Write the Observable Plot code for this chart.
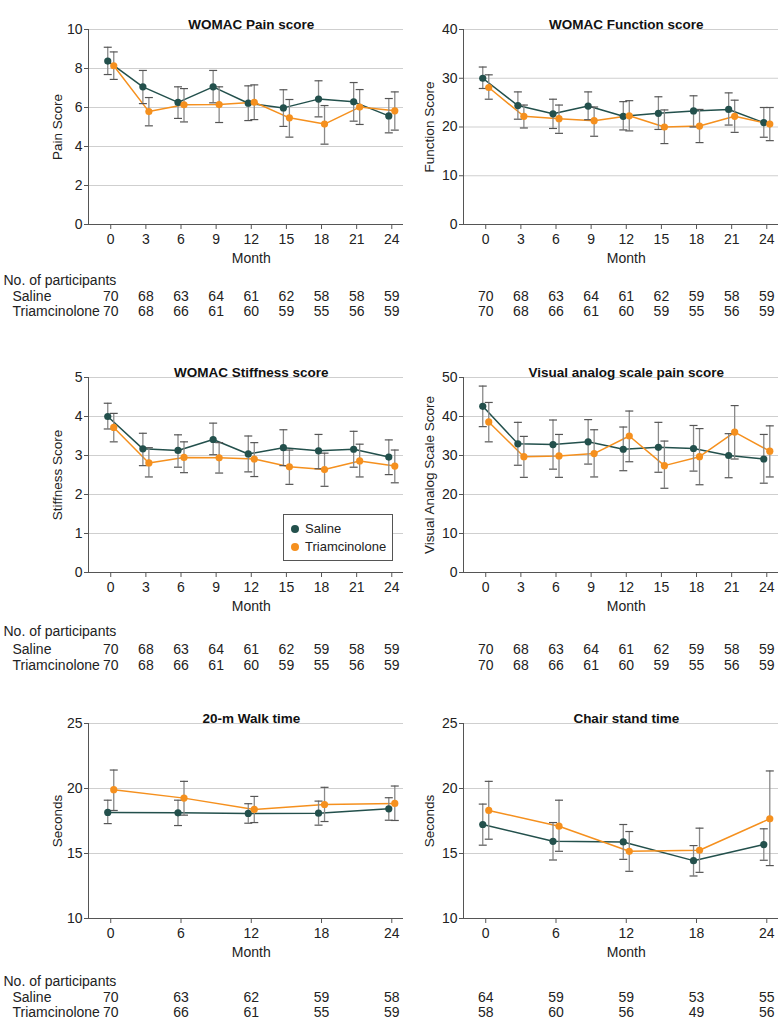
<!DOCTYPE html>
<html><head><meta charset="utf-8">
<script src="https://cdn.jsdelivr.net/npm/d3@7"></script>
<script src="https://cdn.jsdelivr.net/npm/@observablehq/plot@0.6"></script>
<style>
body{margin:0;background:#fff;}
#root{position:relative;width:780px;height:1034px;overflow:hidden;}
.row{display:flex;}
.row svg{display:block;}
.legend{position:absolute;border:1px solid #555;background:#fff;box-sizing:border-box;}
.legend .item{position:absolute;white-space:nowrap;color:#222;}
.legend .sw{position:absolute;border-radius:50%;}
</style></head><body><div id="root"></div>
<script>
const FONT = '"Liberation Sans", Arial, sans-serif';

const groups = ["Saline", "Triamcinolone"];
const groupColors = ["#23504c", "#f5901e"];
const months9 = [0, 3, 6, 9, 12, 15, 18, 21, 24];
const months5 = [0, 6, 12, 18, 24];

// WOMAC Pain score
const painTicks = [0, 2, 4, 6, 8, 10];
const painSaline   = [8.38, 7.06, 6.26, 7.06, 6.22, 5.98, 6.43, 6.29, 5.57];
const painSalineLo = [7.69, 6.20, 5.44, 6.24, 5.33, 5.03, 5.52, 5.30, 4.70];
const painSalineHi = [9.09, 7.90, 7.06, 7.90, 7.11, 6.91, 7.37, 7.28, 6.46];
const painTriam    = [8.14, 5.79, 6.14, 6.15, 6.27, 5.47, 5.15, 6.02, 5.83];
const painTriamLo  = [7.44, 5.06, 5.26, 5.23, 5.38, 4.48, 4.12, 5.13, 4.84];
const painTriamHi  = [8.85, 6.51, 6.97, 7.06, 7.16, 6.41, 6.10, 6.92, 6.80];
const painNSaline  = [70, 68, 63, 64, 61, 62, 58, 58, 59];
const painNTriam   = [70, 68, 66, 61, 60, 59, 55, 56, 59];

// WOMAC Function score
const funcTicks = [0, 10, 20, 30, 40];
const funcSaline   = [30.0, 24.4, 22.7, 24.3, 22.2, 22.8, 23.3, 23.6, 20.9];
const funcSalineLo = [27.9, 21.6, 19.7, 21.5, 19.4, 19.5, 20.0, 20.4, 17.9];
const funcSalineHi = [32.3, 27.2, 25.7, 27.2, 25.2, 26.2, 26.4, 27.0, 24.0];
const funcTriam    = [28.1, 22.2, 21.7, 21.3, 22.3, 20.0, 20.2, 22.2, 20.6];
const funcTriamLo  = [25.7, 19.8, 18.7, 18.1, 19.2, 16.6, 16.8, 18.9, 17.2];
const funcTriamHi  = [30.7, 24.5, 24.5, 24.1, 25.4, 23.5, 23.6, 25.5, 24.0];
const funcNSaline  = [70, 68, 63, 64, 61, 62, 59, 58, 59];
const funcNTriam   = [70, 68, 66, 61, 60, 59, 55, 56, 59];

// WOMAC Stiffness score
const stiffTicks = [0, 1, 2, 3, 4, 5];
const stiffSaline   = [4.00, 3.17, 3.13, 3.41, 3.04, 3.20, 3.12, 3.16, 2.96];
const stiffSalineLo = [3.68, 2.74, 2.70, 3.02, 2.58, 2.74, 2.66, 2.70, 2.51];
const stiffSalineHi = [4.34, 3.57, 3.53, 3.83, 3.50, 3.66, 3.54, 3.62, 3.40];
const stiffTriam    = [3.72, 2.81, 2.95, 2.94, 2.91, 2.71, 2.64, 2.86, 2.73];
const stiffTriamLo  = [3.35, 2.45, 2.56, 2.55, 2.46, 2.26, 2.21, 2.45, 2.30];
const stiffTriamHi  = [4.08, 3.20, 3.35, 3.33, 3.33, 3.14, 3.06, 3.29, 3.14];
const stiffNSaline  = [70, 68, 63, 64, 61, 62, 59, 58, 59];
const stiffNTriam   = [70, 68, 66, 61, 60, 59, 55, 56, 59];

// Visual analog scale pain score
const vasTicks = [0, 10, 20, 30, 40, 50];
const vasSaline   = [42.6, 33.0, 32.8, 33.5, 31.6, 32.1, 31.8, 30.0, 29.1];
const vasSalineLo = [37.4, 27.5, 26.5, 27.8, 26.1, 25.7, 26.0, 24.3, 22.9];
const vasSalineHi = [47.8, 38.5, 39.1, 39.2, 37.3, 38.5, 37.7, 35.6, 35.4];
const vasTriam    = [38.6, 29.7, 29.9, 30.5, 35.0, 27.4, 29.7, 36.0, 31.1];
const vasTriamLo  = [33.5, 24.4, 24.4, 24.5, 28.4, 21.6, 22.5, 29.1, 24.5];
const vasTriamHi  = [43.6, 34.9, 35.4, 36.6, 41.4, 33.7, 36.9, 42.8, 37.6];
const vasNSaline  = [70, 68, 63, 64, 61, 62, 59, 58, 59];
const vasNTriam   = [70, 68, 66, 61, 60, 59, 55, 56, 59];

// 20-m Walk time
const secTicks = [10, 15, 20, 25];
const walkSaline   = [18.16, 18.13, 18.08, 18.10, 18.44];
const walkSalineLo = [17.30, 17.15, 17.33, 17.18, 17.56];
const walkSalineHi = [19.10, 19.10, 18.83, 19.03, 19.29];
const walkTriam    = [19.91, 19.26, 18.39, 18.77, 18.85];
const walkTriamLo  = [18.31, 17.95, 17.38, 17.46, 17.54];
const walkTriamHi  = [21.42, 20.55, 19.39, 20.09, 20.19];
const walkNSaline  = [70, 63, 62, 59, 58];
const walkNTriam   = [70, 66, 61, 55, 59];

// Chair stand time
const chairSaline   = [17.23, 15.94, 15.89, 14.45, 15.69];
const chairSalineLo = [15.64, 14.50, 14.55, 13.27, 14.48];
const chairSalineHi = [18.80, 17.38, 17.23, 15.61, 16.90];
const chairTriam    = [18.31, 17.10, 15.17, 15.25, 17.67];
const chairTriamLo  = [16.10, 15.17, 13.63, 13.55, 14.07];
const chairTriamHi  = [20.55, 19.10, 16.69, 16.95, 21.35];
const chairNSaline  = [64, 59, 59, 53, 55];
const chairNTriam   = [58, 60, 56, 49, 56];

// ---------- drawing ----------
const xDomain = [-1.9, 25];
const capSymbol = { draw(ctx) { ctx.moveTo(-4, 0); ctx.lineTo(4, 0); } };

function rowsOf(months, mean, lo, hi) {
  return months.map((m, i) => ({month: m, mean: mean[i], lo: lo[i], hi: hi[i]}));
}

function panel(cfg) {
  const {title, ylabel, yTicks, months, series, counts, left, width, marginLeft, marginRight,
         height, marginBottom, tableDy, ylabelDx} = cfg;
  const yDomain = d3.extent(yTicks);
  const xMid = (d3.min(months) + d3.max(months)) / 2;
  const marks = [
    Plot.gridY(yTicks, {stroke: "#cfcfcf", strokeOpacity: 1}),
    Plot.ruleY([yDomain[0]], {stroke: "#555"}),
    Plot.ruleX([xDomain[0]], {stroke: "#555"}),
    Plot.axisY(yTicks, {tickSize: 4, tickPadding: 2, label: null, stroke: "#555", fill: "#222", fontSize: 14}),
    Plot.axisX(months, {tickSize: 5, tickPadding: 5, label: null, stroke: "#555", fill: "#222", fontSize: 14}),
    Plot.text([title], {x: xMid, frameAnchor: "top", dy: -10, fontWeight: "bold", fontSize: 13.5, fill: "#111"}),
    Plot.text([ylabel], {frameAnchor: "left", textAnchor: "middle", dx: -ylabelDx, rotate: -90, fontSize: 13.5, fill: "#222"}),
    Plot.text(["Month"], {x: xMid, frameAnchor: "bottom", dy: 38, fontSize: 14, fill: "#222"})
  ];
  const data = series.map(s => rowsOf(months, s[0], s[1], s[2]));
  const dxs = [-3, 3];
  data.forEach((rows, k) => {
    marks.push(Plot.line(rows, {x: "month", y: "mean", stroke: groupColors[k], strokeWidth: 1.5, dx: dxs[k]}));
  });
  data.forEach((rows, k) => {
    marks.push(Plot.ruleX(rows, {x: "month", y1: "lo", y2: "hi", stroke: "#8a8a8a", strokeWidth: 1.3, dx: dxs[k]}));
    marks.push(Plot.dot(rows, {x: "month", y: "lo", symbol: capSymbol, r: 4, fill: "none", stroke: "#555", strokeWidth: 1.2, dx: dxs[k]}));
    marks.push(Plot.dot(rows, {x: "month", y: "hi", symbol: capSymbol, r: 4, fill: "none", stroke: "#555", strokeWidth: 1.2, dx: dxs[k]}));
  });
  data.forEach((rows, k) => {
    marks.push(Plot.dot(rows, {x: "month", y: "mean", r: 3.6, fill: groupColors[k], stroke: "none", dx: dxs[k]}));
  });
  counts.forEach((n, k) => {
    marks.push(Plot.text(months, {x: d => d, text: (d, i) => String(n[i]), frameAnchor: "bottom", dy: tableDy[k + 1], fontSize: 14, fill: "#222"}));
  });
  if (left) {
    marks.push(Plot.text(["No. of participants"], {frameAnchor: "bottom-left", dx: -(marginLeft - 3), dy: tableDy[0], textAnchor: "start", fontSize: 14, fill: "#222"}));
    groups.forEach((g, k) => {
      marks.push(Plot.text([g], {frameAnchor: "bottom-left", dx: -(marginLeft - 12), dy: tableDy[k + 1], textAnchor: "start", fontSize: 14, fill: "#222"}));
    });
  }
  return Plot.plot({
    width, height, marginLeft, marginRight, marginTop: 29, marginBottom,
    x: {domain: xDomain}, y: {domain: yDomain},
    style: {fontFamily: FONT, fontSize: "14px", color: "#222", background: "transparent", overflow: "visible"},
    marks
  });
}

const root = document.getElementById("root");
const rowSpecs = [
  {height: 348, tableDy: [60, 76, 91], panels: [
    {title: "WOMAC Pain score", ylabel: "Pain Score", yTicks: painTicks, months: months9,
     series: [[painSaline, painSalineLo, painSalineHi], [painTriam, painTriamLo, painTriamHi]],
     counts: [painNSaline, painNTriam]},
    {title: "WOMAC Function score", ylabel: "Function Score", yTicks: funcTicks, months: months9,
     series: [[funcSaline, funcSalineLo, funcSalineHi], [funcTriam, funcTriamLo, funcTriamHi]],
     counts: [funcNSaline, funcNTriam]}
  ]},
  {height: 346, tableDy: [63, 81, 97], panels: [
    {title: "WOMAC Stiffness score", ylabel: "Stiffness Score", yTicks: stiffTicks, months: months9,
     series: [[stiffSaline, stiffSalineLo, stiffSalineHi], [stiffTriam, stiffTriamLo, stiffTriamHi]],
     counts: [stiffNSaline, stiffNTriam]},
    {title: "Visual analog scale pain score", ylabel: "Visual Analog Scale Score", yTicks: vasTicks, months: months9,
     series: [[vasSaline, vasSalineLo, vasSalineHi], [vasTriam, vasTriamLo, vasTriamHi]],
     counts: [vasNSaline, vasNTriam]}
  ]},
  {height: 340, tableDy: [67, 83, 98], panels: [
    {title: "20-m Walk time", ylabel: "Seconds", yTicks: secTicks, months: months5,
     series: [[walkSaline, walkSalineLo, walkSalineHi], [walkTriam, walkTriamLo, walkTriamHi]],
     counts: [walkNSaline, walkNTriam]},
    {title: "Chair stand time", ylabel: "Seconds", yTicks: secTicks, months: months5,
     series: [[chairSaline, chairSalineLo, chairSalineHi], [chairTriam, chairTriamLo, chairTriamHi]],
     counts: [chairNSaline, chairNTriam]}
  ]}
];
const cols = [
  {width: 410, marginLeft: 88, marginRight: 7, left: true, ylabelDx: 31},
  {width: 370, marginLeft: 53, marginRight: 2, left: false, ylabelDx: 34}
];
rowSpecs.forEach(r => {
  const div = document.createElement("div");
  div.className = "row";
  div.style.height = r.height + "px";
  r.panels.forEach((p, c) => {
    div.appendChild(panel({...p, ...cols[c], height: r.height, marginBottom: r.height - 29 - 195, tableDy: r.tableDy}));
  });
  root.appendChild(div);
});

// legend (inside the stiffness panel)
const legend = document.createElement("div");
legend.className = "legend";
Object.assign(legend.style, {left: "283px", top: "514px", width: "110px", height: "47px", fontFamily: FONT, fontSize: "13px"});
groups.forEach((g, k) => {
  const sw = document.createElement("div");
  sw.className = "sw";
  Object.assign(sw.style, {left: "7px", top: (10 + k * 18) + "px", width: "8px", height: "8px", background: groupColors[k]});
  const t = document.createElement("div");
  t.className = "item";
  t.textContent = g;
  Object.assign(t.style, {left: "21px", top: (5 + k * 18) + "px", lineHeight: "18px"});
  legend.appendChild(sw);
  legend.appendChild(t);
});
root.appendChild(legend);
</script>
</body></html>
